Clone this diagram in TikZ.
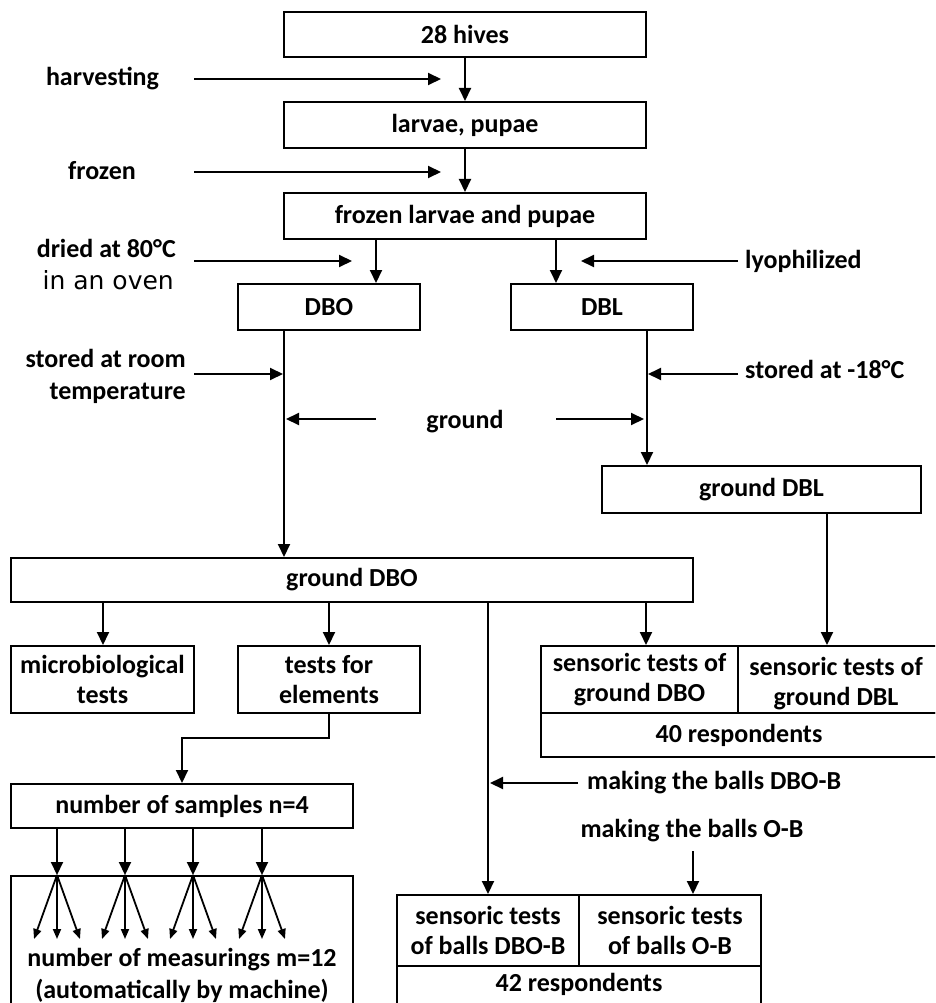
\documentclass[tikz,border=0pt]{standalone}
\usepackage{fontspec}
\setmainfont{Carlito}
\newfontfamily\ovenfont{DejaVu Sans}
\usetikzlibrary{arrows.meta}
\begin{document}
\begin{tikzpicture}[x=1pt,y=-1pt,
  box/.style={draw,line width=2pt,inner sep=0pt,align=center,font=\bfseries\fontsize{26}{30}\selectfont},
  lab/.style={inner sep=0pt,align=center,font=\bfseries\fontsize{26}{30}\selectfont,text height=17pt,text depth=5pt},
  arr/.style={line width=2pt,-{Triangle[length=13pt,width=12pt]}},
  farr/.style={line width=1.8pt,-{Triangle[length=10pt,width=8pt]}},
  ln/.style={line width=2pt}]
\useasboundingbox (0,0) rectangle (935,1003);
\clip (0,0) rectangle (935,1003);
% column coordinates
\coordinate (c376) at (376,0);
\coordinate (c556) at (556,0);
\coordinate (c284) at (284,0);
\coordinate (c647) at (647,0);
\coordinate (c103) at (103,0);
\coordinate (c329) at (329,0);
\coordinate (c646) at (646,0);
\coordinate (c488) at (488,0);
\coordinate (c827) at (827,0);
\coordinate (c693) at (693,0);
\coordinate (c182) at (182,0);
\coordinate (s1) at (57,0);
\coordinate (s2) at (125,0);
\coordinate (s3) at (193,0);
\coordinate (s4) at (262,0);
% boxes
\node[box,minimum width=362pt,minimum height=45pt] (hives) at (465,34.5) {28 hives};
\node[box,minimum width=362pt,minimum height=46pt] (larvae) at (465,125) {larvae, pupae};
\node[box,minimum width=362pt,minimum height=46pt] (flp) at (465,216) {frozen larvae and pupae};
\node[box,minimum width=182pt,minimum height=46pt] (dbo) at (329,307) {DBO};
\node[box,minimum width=182pt,minimum height=46pt] (dbl) at (602,307) {DBL};
\node[box,minimum width=319pt,minimum height=47pt] (gdbl) at (761.5,489.5) {ground DBL};
\node[box,minimum width=682pt,minimum height=44pt] (gdbo) at (352,580) {ground DBO};
\node[box,minimum width=183pt,minimum height=67pt] (micro) at (102.5,679.5) {microbiological\\tests};
\node[box,minimum width=182pt,minimum height=67pt] (elem) at (329,679.5) {tests for\\elements};
\node[box,minimum width=396pt,minimum height=44pt] (sg3) at (739,735) {40 respondents};
\node[box,minimum width=197pt,minimum height=67pt] (sg1) at (639.5,679.5) {sensoric tests of\\ground DBO};
\node[box,minimum width=199pt,minimum height=67pt] (sg2) at (837.5,679.5) {};
\node[inner sep=0pt,align=center,font=\bfseries\fontsize{26}{30}\selectfont] (sg2t) at (836,684) {sensoric tests of\\ground DBL};
\node[box,minimum width=342pt,minimum height=44pt] (samples) at (182,806) {number of samples n=4};
\node[box,minimum width=342pt,minimum height=134pt] (meas) at (182,943) {};
\node[lab] (meast1) at (182,960) {number of measurings m=12};
\node[lab] (meast2) at (182,992) {(automatically by machine)};
\node[box,minimum width=182pt,minimum height=71pt] (b1) at (488,930.5) {sensoric tests\\of balls DBO-B};
\node[box,minimum width=182pt,minimum height=71pt] (b2) at (670,930.5) {sensoric tests\\of balls O-B};
\node[box,minimum width=364pt,minimum height=44pt] (b3) at (579,988) {};
\node[lab] (b3t) at (579,985) {42 respondents};
% labels
\node[lab] (harv) at (102.5,80) {harvesting};
\node[lab] (froz) at (102,173) {frozen};
\node[lab,anchor=east] (dried) at (176,251) {dried at 80°C};
\node[inner sep=0pt,font=\ovenfont\fontsize{25}{30}\selectfont,text height=18pt,text depth=5pt,anchor=east] (oven) at (174,283) {in an oven};
\node[lab,anchor=west] (lyo) at (745,262) {lyophilized};
\node[lab,anchor=east] (room1) at (186,361) {stored at room};
\node[lab,anchor=east] (room2) at (186,393) {temperature};
\node[lab,anchor=west] (minus) at (745,372) {stored at -18°C};
\node[lab] (ground) at (465,422) {ground};
\node[lab,anchor=west] (mbdbo) at (587,783) {making the balls DBO-B};
\node[lab] (mbob) at (692,831) {making the balls O-B};
% label arrow ends
\coordinate (h1) at (194,79);  \coordinate (h2) at (441,79);
\coordinate (f1) at (194,172); \coordinate (f2) at (441,172);
\coordinate (d1) at (194,261); \coordinate (d2) at (352,261);
\coordinate (l1) at (738,261); \coordinate (l2) at (581,261);
\coordinate (r1) at (194,374); \coordinate (r2) at (283,374);
\coordinate (m1) at (738,374); \coordinate (m2) at (648,374);
\coordinate (g1) at (376,419); \coordinate (g2) at (286,419);
\coordinate (g3) at (556,419); \coordinate (g4) at (644,419);
\coordinate (k1) at (578,783); \coordinate (k2) at (490,783);
\coordinate (o1) at (693,851);
% connectors
\draw[arr] (hives.south) -- (larvae.north);
\draw[arr] (larvae.south) -- (flp.north);
\draw[arr] (flp.south -| c376) -- (dbo.north -| c376);
\draw[arr] (flp.south -| c556) -- (dbl.north -| c556);
\draw[arr] (dbo.south -| c284) -- (gdbo.north -| c284);
\draw[arr] (dbl.south -| c647) -- (gdbl.north -| c647);
\draw[arr] (gdbl.south -| c827) -- (sg2.north -| c827);
\draw[arr] (gdbo.south -| c103) -- (micro.north -| c103);
\draw[arr] (gdbo.south -| c329) -- (elem.north -| c329);
\draw[arr] (gdbo.south -| c646) -- (sg1.north -| c646);
\draw[arr] (gdbo.south -| c488) -- (b1.north -| c488);
\draw[arr] (elem.south) -- ++(0,24) -| (c182 |- samples.north);
\draw[arr] (o1) -- (b2.north -| c693);
\foreach \s in {s1,s2,s3,s4}{
  \draw[arr] (samples.south -| \s) -- (meas.north -| \s);
  \draw[farr] (meas.north -| \s) -- ++(-23,64);
  \draw[farr] (meas.north -| \s) -- ++(0,64);
  \draw[farr] (meas.north -| \s) -- ++(23,64);
}
\draw[arr] (h1) -- (h2);
\draw[arr] (f1) -- (f2);
\draw[arr] (d1) -- (d2);
\draw[arr] (l1) -- (l2);
\draw[arr] (r1) -- (r2);
\draw[arr] (m1) -- (m2);
\draw[arr] (g1) -- (g2);
\draw[arr] (g3) -- (g4);
\draw[arr] (k1) -- (k2);
\end{tikzpicture}
\end{document}
